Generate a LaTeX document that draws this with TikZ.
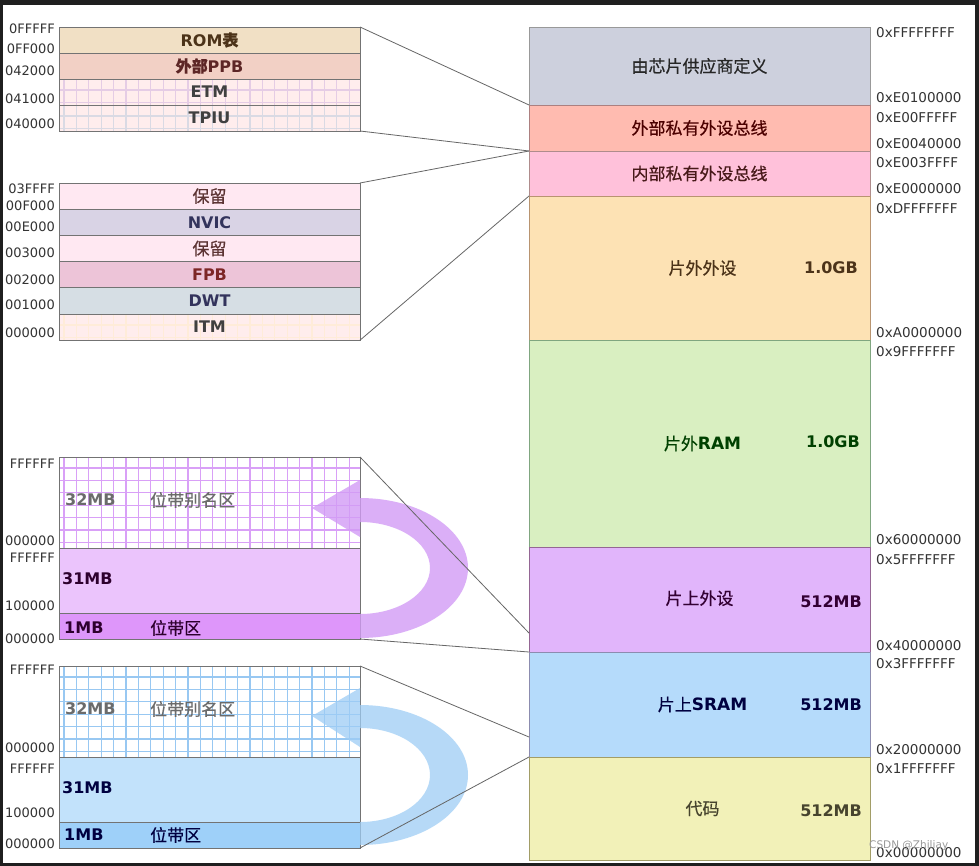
\documentclass[tikz,border=0pt]{standalone}
\usepackage{fontspec}
\setmainfont{DejaVu Sans}
\newfontfamily\cjk{Noto Sans CJK SC}[FakeBold=0.5]
\usetikzlibrary{positioning}

\definecolor{vendorc}{HTML}{CDD0DD}
\definecolor{extbusc}{HTML}{FFBBB0}
\definecolor{intbusc}{HTML}{FFC1DA}
\definecolor{offperc}{HTML}{FDE2B4}
\definecolor{offramc}{HTML}{D9EFC1}
\definecolor{onperc}{HTML}{E1B5FB}
\definecolor{sramc}{HTML}{B5DBFB}
\definecolor{codec}{HTML}{F2F1B8}
\definecolor{romc}{HTML}{F1E0C5}
\definecolor{ppbc}{HTML}{F2D0C5}
\definecolor{pinkc}{HTML}{FFEDED}
\definecolor{rsvc}{HTML}{FFE8F2}
\definecolor{nvicc}{HTML}{D9D3E5}
\definecolor{fpbc}{HTML}{EDC4D8}
\definecolor{dwtc}{HTML}{D6DEE4}
\definecolor{pbigc}{HTML}{EBC4FC}
\definecolor{psmallc}{HTML}{DE96FA}
\definecolor{pgridc}{HTML}{D9A0F7}
\definecolor{parrowc}{HTML}{D29CF5}
\definecolor{bbigc}{HTML}{C2E2FB}
\definecolor{bsmallc}{HTML}{9ED0F9}
\definecolor{bgridc}{HTML}{98C8F2}
\definecolor{barrowc}{HTML}{9ECDF5}
\definecolor{framec}{HTML}{1F1F1F}

\begin{document}
\begin{tikzpicture}[x=1pt,y=-1pt,
    mapbox/.style={line width=0.9pt, minimum width=341, inner sep=0, outer sep=0,
      font=\cjk\fontsize{17}{20}\selectfont},
    regbox/.style={draw=black!55, line width=0.9pt, minimum width=301, inner sep=0, outer sep=0,
      font=\bfseries\fontsize{16}{19}\selectfont},
    sizelbl/.style={inner sep=0, anchor=east, font=\bfseries\fontsize{16}{19}\selectfont},
    bbtxt/.style={inner sep=0, anchor=west, font=\bfseries\fontsize{16}{19}\selectfont},
    addr/.style={inner sep=0, text=black!80, font=\fontsize{13.5}{15}\selectfont},
    link/.style={draw=black!60, line width=0.8pt},
    gridded/.style={path picture={
      \foreach \g in {5,17.4,...,300}
        \draw[#1, line width=1.1pt] ([xshift=\g pt]path picture bounding box.north west) -- ([xshift=\g pt]path picture bounding box.south west);
      \foreach \g in {11,23.4,...,100}
        \draw[#1, line width=1.1pt] ([yshift=-\g pt]path picture bounding box.north west) -- ([yshift=-\g pt]path picture bounding box.north east);
    }}]
    \useasboundingbox (0,0) rectangle (979,866);
    % draw frame
    \fill[framec] (0,0) rectangle (979,866);
    \fill[white] (3,5) rectangle (975,863);

    % draw memory map
    \node[mapbox, fill=vendorc, draw=black!40, text=black!85] (vendor) at (699.5,66) [minimum height=78] {由芯片供应商定义};
    \node[mapbox, fill=extbusc, draw=red!35!black!50, text=red!30!black, minimum height=46, below=0pt of vendor] (extbus) {外部私有外设总线};
    \node[mapbox, fill=intbusc, draw=red!30!black!45, text=red!20!black!90, minimum height=45, below=0pt of extbus] (intbus) {内部私有外设总线};
    \node[mapbox, fill=offperc, draw=brown!80!black!70, text=brown!40!black, minimum height=144, below=0pt of intbus] (offper) {\hspace{6pt}片外外设};
    \node[mapbox, fill=offramc, draw=green!30!black!50, text=green!25!black, minimum height=207, below=0pt of offper] (offram) {\hspace{6pt}\raisebox{-6pt}{片外{\fontspec{DejaVu Sans Bold}RAM}}};
    \node[mapbox, fill=onperc, draw=violet!60!black!60, text=violet!40!black, minimum height=105, below=0pt of offram] (onper) {\raisebox{4pt}{片上外设}};
    \node[mapbox, fill=sramc, draw=blue!30!black!45, text=blue!25!black, minimum height=105, below=0pt of onper] (sram) {\hspace{6pt}片上{\fontspec{DejaVu Sans Bold}SRAM}};
    \node[mapbox, fill=codec, draw=olive!60!black!60, text=olive!35!black, minimum height=103, below=0pt of sram] (code) {\hspace{6pt}\raisebox{-2pt}{代码}};

    % draw sizes
    \node[sizelbl, text=brown!40!black] (offpersz) at ([xshift=-12pt]offper.east) {1.0GB};
    \node[sizelbl, text=green!25!black] (offramsz) at ([xshift=-10pt,yshift=2pt]offram.east) {1.0GB};
    \node[sizelbl, text=violet!40!black] (onpersz) at ([xshift=-8pt,yshift=-2pt]onper.east) {512MB};
    \node[sizelbl, text=blue!25!black] (sramsz) at ([xshift=-8pt]sram.east) {512MB};
    \node[sizelbl, text=olive!35!black] (codesz) at ([xshift=-8pt,yshift=-2pt]code.east) {512MB};

    % draw addresses
    \foreach \y/\t in {33/0xFFFFFFFF, 98/0xE0100000, 118/0xE00FFFFF, 144/0xE0040000, 163/0xE003FFFF,
        189/0xE0000000, 209/0xDFFFFFFF, 333/0xA0000000, 352/0x9FFFFFFF, 540/0x60000000,
        560/0x5FFFFFFF, 646/0x40000000, 664/0x3FFFFFFF, 750/0x20000000, 769/0x1FFFFFFF, 853/0x00000000}
      \node[addr, anchor=west] (ra-\y) at (876,\y) {\t};
    \node[inner sep=0, anchor=west, text=black!40, font=\fontsize{10.5}{12}\selectfont] (mark) at (869,846) {CSDN @Zhiliay};

    % draw PPB blocks
    \node[regbox, fill=romc, text=brown!40!black, minimum height=26] (rom) at (209.5,40) {ROM{\cjk 表}};
    \node[regbox, fill=ppbc, text=red!25!black!85, minimum height=26, below=0pt of rom] (extppb) {{\cjk 外部}PPB};
    \node[regbox, fill=pinkc, gridded=violet!20, text=black!75, minimum height=26, below=0pt of extppb] (etm) {ETM};
    \node[regbox, fill=pinkc, gridded=blue!15!gray!25, text=black!75, minimum height=26, below=0pt of etm] (tpiu) {TPIU};

    \node[regbox, fill=rsvc, text=red!20!black!80, minimum height=26.2, font=\cjk\fontsize{17}{19}\selectfont] (rsva) at (209.5,196.1) {保留};
    \node[regbox, fill=nvicc, text=blue!20!black!80, minimum height=26.2, below=0pt of rsva] (nvic) {NVIC};
    \node[regbox, fill=rsvc, text=red!20!black!80, minimum height=26.2, font=\cjk\fontsize{17}{19}\selectfont, below=0pt of nvic] (rsvb) {保留};
    \node[regbox, fill=fpbc, text=red!40!black!85, minimum height=26.2, below=0pt of rsvb] (fpb) {FPB};
    \node[regbox, fill=dwtc, text=blue!20!black!80, minimum height=26.2, below=0pt of fpb] (dwt) {DWT};
    \node[regbox, fill=pinkc, gridded=orange!15, text=black!75, minimum height=26.2, below=0pt of dwt] (itm) {ITM};

    % draw bit-band blocks
    \node[regbox, fill=white, gridded=pgridc, minimum height=91] (aliasp) at (209.5,502.5) {};
    \node[regbox, fill=pbigc, minimum height=65, below=0pt of aliasp] (bigp) {};
    \node[regbox, fill=psmallc, minimum height=26, below=0pt of bigp] (bandp) {};
    \node[regbox, fill=white, gridded=bgridc, minimum height=91] (aliass) at (209.5,711.5) {};
    \node[regbox, fill=bbigc, minimum height=65, below=0pt of aliass] (bigs) {};
    \node[regbox, fill=bsmallc, minimum height=26, below=0pt of bigs] (bands) {};

    \node[bbtxt, text=black!58] (pa) at (65,500) {32MB};
    \node[bbtxt, text=black!58, font=\cjk\fontsize{17}{19}\selectfont] (pb) at (150,500) {位带别名区};
    \node[bbtxt, text=violet!35!black] (pc) at (62,579) {31MB};
    \node[bbtxt, text=violet!35!black] (pd) at (64,628) {1MB};
    \node[bbtxt, text=violet!35!black, font=\cjk\fontsize{17}{19}\selectfont] (pe) at (150,628) {位带区};
    \node[bbtxt, text=black!58] (sa) at (65,709) {32MB};
    \node[bbtxt, text=black!58, font=\cjk\fontsize{17}{19}\selectfont] (sb) at (150,709) {位带别名区};
    \node[bbtxt, text=blue!25!black] (sc) at (62,788) {31MB};
    \node[bbtxt, text=blue!25!black] (sd) at (64,835) {1MB};
    \node[bbtxt, text=blue!25!black, font=\cjk\fontsize{17}{19}\selectfont] (se) at (150,835) {位带区};

    % draw left addresses
    \foreach \y/\t in {29/0FFFFF, 49/0FF000, 71/042000, 99/041000, 124/040000,
        189/03FFFF, 206/00F000, 227/00E000, 253/003000, 280/002000, 305/001000, 333/000000,
        464/FFFFFF, 541/000000, 558/FFFFFF, 606/100000, 639/000000,
        670/FFFFFF, 748/000000, 769/FFFFFF, 813/100000, 844/000000}
      \node[addr, anchor=east, font=\fontsize{13}{15}\selectfont] (la-\y) at (55,\y) {\t};

    % draw bit-band arrows
    \fill[parrowc, fill opacity=0.8] (360,638) arc[start angle=90, end angle=-90, x radius=108, y radius=70]
      -- (360,480) -- (312,508) -- (360,537) -- (360,522)
      arc[start angle=-90, end angle=90, x radius=70, y radius=46] -- cycle;
    \fill[barrowc, fill opacity=0.75] (360,845) arc[start angle=90, end angle=-90, x radius=108, y radius=70]
      -- (360,688) -- (312,716) -- (360,747) -- (360,728)
      arc[start angle=-90, end angle=90, x radius=70, y radius=47] -- cycle;

    % draw zoom lines
    \coordinate (pmap) at (529,633);
    \coordinate (smap) at (529,737);
    \draw[link] (rom.north east) -- (vendor.south west);
    \draw[link] (tpiu.south east) -- (extbus.south west);
    \draw[link] (rsva.north east) -- (extbus.south west);
    \draw[link] (itm.south east) -- (intbus.south west);
    \draw[link] (aliasp.north east) -- (pmap);
    \draw[link] (bandp.south east) -- (onper.south west);
    \draw[link] (aliass.north east) -- (smap);
    \draw[link] (bands.south east) -- (sram.south west);
\end{tikzpicture}
\end{document}
